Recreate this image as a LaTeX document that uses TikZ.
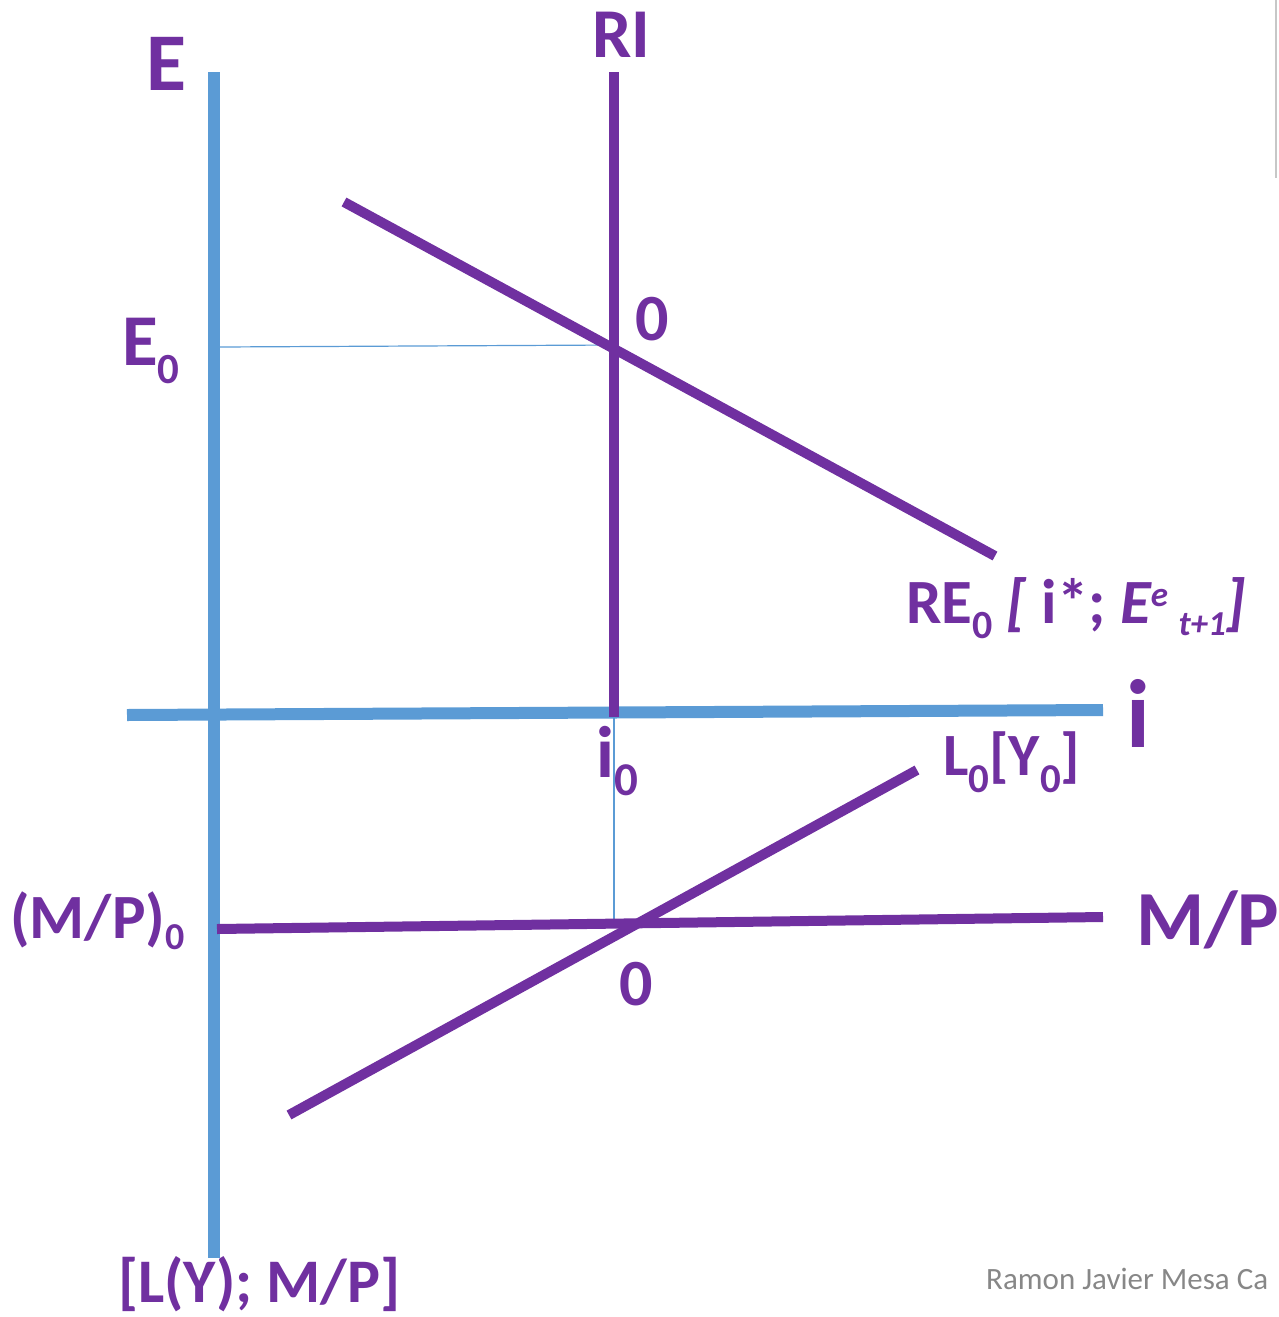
\documentclass[tikz,border=0pt]{standalone}
\usepackage{fontspec}
\setmainfont{Carlito}
\definecolor{purp}{HTML}{7030A0}
\definecolor{axblue}{HTML}{5B9BD5}
\newcommand\fsz[1]{\fontsize{#1}{#1}\selectfont}
\begin{document}
\begin{tikzpicture}[x=1pt,y=-1pt,
  axisline/.style={draw=axblue, line width=12pt},
  curveline/.style={draw=purp, line width=10pt},
  guideline/.style={draw=axblue, line width=1.2pt},
  lab/.style={text=purp, inner sep=0pt, anchor=base west},
  glyph/.style={text=purp, inner sep=0pt, anchor=center}]
\useasboundingbox (0,0) rectangle (1279,1317);
% coordinates
\coordinate (Etop) at (214,72);
\coordinate (Ebot) at (214,1258);
\coordinate (Hl) at (127,715);
\coordinate (Hr) at (1103,710);
\coordinate (RItop) at (614,72);
\coordinate (RIbot) at (614,717);
\coordinate (REa) at (344,202);
\coordinate (REb) at (995,556);
\coordinate (La) at (289,1115);
\coordinate (Lb) at (917,770);
\coordinate (MPa) at (217,929);
\coordinate (MPb) at (1103,917);
\coordinate (G1a) at (220,347);
\coordinate (G1b) at (614,345);
\coordinate (G2b) at (614,922);
\coordinate (Sa) at (1276,0);
\coordinate (Sb) at (1276,178);
% lines
\draw[guideline] (G1a) -- (G1b);
\draw[guideline] (RIbot) -- (G2b);
\draw[axisline] (Etop) -- (Ebot);
\draw[axisline] (Hl) -- (Hr);
\draw[curveline] (RItop) -- (RIbot);
\draw[curveline] (REa) -- (REb);
\draw[curveline] (La) -- (Lb);
\draw[curveline] (MPa) -- (MPb);
\draw[draw=black!22, line width=2pt] (Sa) -- (Sb);
% labels
\node[lab, font=\bfseries\fsz{82}] (lE) at (146,90) {E};
\node[lab, font=\bfseries\fsz{70}] (lRI) at (592,57) {RI};
\node[lab, font=\bfseries\fsz{73}] (lE0) at (122,365) {E\raisebox{-18pt}{\fsz{43}0}};
\node[glyph, font=\bfseries\fsz{66}] (lO1) at (652,319) {0};
\node[glyph, font=\bfseries\fsz{66}] (lO2) at (636,984) {0};
\node[lab, font=\bfseries\fsz{63}] (lRE) at (906,623) {RE\raisebox{-15pt}{\fsz{40}0} \textit{[} i*; \textit{E\raisebox{17pt}{\fsz{35}e}\,\raisebox{-12pt}{\fsz{35}t+1}]}};
\node[glyph, font=\bfseries\fsz{97}] (li) at (1138,713) {i};
\node[lab, font=\bfseries\fsz{73}] (li0) at (596,777) {i\raisebox{-18pt}{\fsz{47}0}};
\node[lab, font=\bfseries\fsz{60}] (lL0) at (943,775) {L\raisebox{-17pt}{\fsz{41}0}[Y\raisebox{-17pt}{\fsz{41}0}]};
\node[lab, font=\bfseries\fsz{63}] (lMP0) at (10,938) {(M/P)\raisebox{-11pt}{\fsz{38}0}};
\node[lab, font=\bfseries\fsz{78}] (lMP) at (1136,945) {M/P};
\node[lab, font=\bfseries\fsz{62}] (lLY) at (118,1302) {[L(Y); M/P]};
\node[lab, text=black!47, font=\fsz{31}] (lname) at (986,1289) {Ramon Javier Mesa Ca};
\end{tikzpicture}
\end{document}
